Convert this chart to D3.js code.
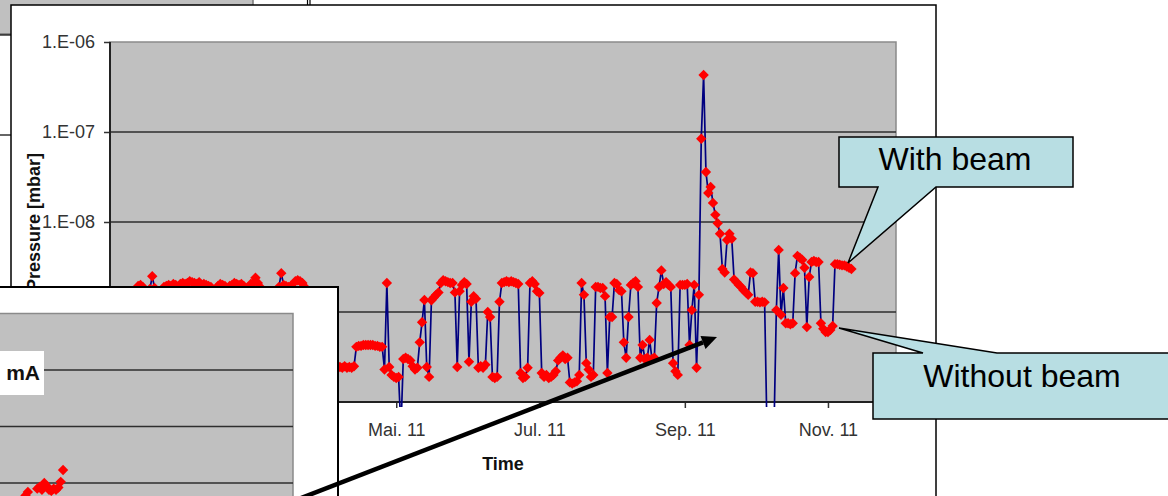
<!DOCTYPE html>
<html>
<head>
<meta charset="utf-8">
<script src="https://cdn.jsdelivr.net/npm/d3@7"></script>
<style>
  body { margin: 0; background: #fff; }
  svg { display: block; font-family: "Liberation Sans", Arial, sans-serif; }
</style>
</head>
<body>
<svg id="chart" width="1168" height="496"></svg>
<script>
// Daily pressure readings 2011, in units of 1e-9 mbar (index = day of month - 1)
const pJan = [null, null, null, null, null, 1.2, 1.4, 1.0, 1.5, 1.6, 1.95, 2.0, 1.9, 1.3, 1.2, 1.8, 2.5, 1.85, 1.2, 1.0, 1.5, 1.9, 1.95, 2.0, 1.95, 2.05, 2.0, 1.9, 2.05, 2.1, 2.05];
const pFeb = [2.1, 2.2, 2.15, 2.1, 2.05, 2.15, 2.0, 2.05, 2.0, 1.95, 1.9, 1.0, 1.4, 1.95, 2.05, 2.0, 1.95, 1.3, 1.95, 2.0, 2.1, 2.05, 2.0, 2.05, 1.95, 1.4, 1.9, 2.05];
const pMar = [2.1, 2.4, 2.1, 1.9, 1.2, 0.7, 0.5, 0.8, 0.6, 0.9, 1.3, 1.9, 2.7, 2.0, 1.95, 1.9, 1.95, 1.85, 2.2, 2.25, 2.2, 2.1, 1.9, 1.2, 0.8, 0.5, 0.4, 0.35, 0.3, 0.28, 0.3];
const pApr = [0.27, 0.26, 0.25, 0.26, 0.25, 0.25, 0.245, 0.24, 0.25, 0.24, 0.245, 0.24, 0.25, 0.41, 0.42, 0.42, 0.43, 0.43, 0.43, 0.43, 0.43, 0.42, 0.42, 0.41, 0.41, 0.23, 2.1, 0.245, 0.2, 0.19];
const pMai = [0.185, 0.19, 0.05, 0.3, 0.31, 0.3, 0.29, 0.25, 0.23, 0.24, 0.46, 0.77, 1.36, 0.245, 0.19, 1.35, 1.45, 1.55, 1.65, 2.1, 2.25, 2.2, 2.15, 2.1, 2.1, 1.65, 0.245, 1.7, 2.0, 2.15, 2.05];
const pJun = [0.28, 1.3, 1.5, 1.4, 0.24, 0.25, 0.24, 0.26, 1.0, 0.88, 0.19, 0.185, 0.19, 1.3, 2.1, 2.15, 2.2, 2.15, 2.2, 2.15, 2.1, 2.05, 0.21, 0.185, 0.19, 0.24, 2.1, 2.2, 2.05, 1.7];
const pJul = [1.63, 0.21, 0.19, 0.2, 0.185, 0.19, 0.2, 0.22, 0.29, 0.31, 0.33, 0.3, 0.31, 0.165, 0.16, 0.165, 0.17, 0.2, 2.1, 1.55, 0.27, 0.23, 0.19, 0.2, 1.9, 1.9, 1.85, 1.85, 1.5, 0.21, 0.88];
const pAug = [0.88, 2.1, 2.05, 1.75, 1.7, 0.46, 0.31, 0.88, 2.0, 2.1, 2.2, 1.9, 0.31, 0.43, 0.3, 0.31, 0.49, 0.3, 0.31, 1.26, 1.9, 2.9, 2.05, 2.15, 2.0, 1.9, 0.27, 0.22, 0.2, 2.0, 2.0];
const pSep = [2.0, 2.05, 0.43, 1.05, 2.0, 0.24, 1.55, 84, 430, 36, 21, 24.5, 16.3, 12, 9.7, 7.4, 3.0, 2.75, 6.3, 7.4, 6.5, 2.3, 2.15, 2.0, 1.9, 1.75, 1.65, 1.55, 2.75, 2.7];
const pOct = [1.3, 1.3, 1.28, 1.3, 1.28, 0.05, 0.05, 0.05, 0.05, 1.05, 4.9, 0.93, 1.85, 0.75, 0.75, 0.73, 0.75, 2.7, 4.2, 4.0, 3.8, 3.1, 0.68, 2.45, 3.6, 3.7, 3.6, 3.6, 0.75, 0.65, 0.6];
const pNov = [0.6, 0.63, 0.7, 3.4, 3.4, 3.35, 3.3, 3.3, 3.2, 3.1, 3.0];
const monthly = [pJan, pFeb, pMar, pApr, pMai, pJun, pJul, pAug, pSep, pOct, pNov];
const UNIT = 1e-9;

const yTicks = [1e-10, 1e-9, 1e-8, 1e-7, 1e-6];
const yTickLabels = ["1.E-10", "1.E-09", "1.E-08", "1.E-07", "1.E-06"];
const xTickLabels = ["Jan. 11", "Mrz. 11", "Mai. 11", "Jul. 11", "Sep. 11", "Nov. 11"];

// beam current chart lying on top (only a corner is visible)
const insetDates = ["2011-08-08", "2011-08-09", "2011-08-13", "2011-08-14", "2011-08-15", "2011-08-16", "2011-08-17", "2011-08-18", "2011-08-19", "2011-08-20", "2011-08-21", "2011-08-22", "2011-08-23", "2011-08-24"];
const insetCurrent = [78, 84, 90, 93, 88, 100, 95, 88, 86, 90, 88, 92, 102, 123];
const insetGrid = [100, 200, 300];

const data = [];
monthly.forEach((arr, m) => arr.forEach((v, i) => {
    if (v != null) data.push({ date: new Date(2011, m, i + 1), p: v * UNIT });
}));

const svg = d3.select("#chart");
const plot = { left: 110, right: 896, top: 42, bottom: 402 };

// windows behind the chart
svg.append("rect").attr("x", -2).attr("y", -2).attr("width", 255).attr("height", 36)
    .attr("fill", "#c0c0c0").attr("stroke", "#777").attr("stroke-width", 1.5);
[307.5, 310].forEach(xx => svg.append("line").attr("x1", xx).attr("x2", xx).attr("y1", 0).attr("y2", 8)
    .attr("stroke", "#000").attr("stroke-width", 1.2));
[35, 135].forEach(yy => svg.append("line").attr("x1", 0).attr("x2", 12).attr("y1", yy).attr("y2", yy)
    .attr("stroke", "#000").attr("stroke-width", 1.2));

// main chart window
svg.append("rect").attr("x", 11).attr("y", 5).attr("width", 925).attr("height", 520)
    .attr("fill", "#fff").attr("stroke", "#000").attr("stroke-width", 1.5);

const x = d3.scaleTime()
    .domain([new Date(2010, 11, 30), new Date(2011, 10, 30)])
    .range([plot.left, plot.right]);
const y = d3.scaleLog().domain([1e-10, 1e-6]).range([plot.bottom, plot.top]);

svg.append("rect").attr("x", plot.left).attr("y", plot.top)
    .attr("width", plot.right - plot.left).attr("height", plot.bottom - plot.top)
    .attr("fill", "#c0c0c0").attr("stroke", "#8a8a8a").attr("stroke-width", 1.5);

// gridlines
svg.append("g").selectAll("line").data(yTicks.slice(1, 4)).join("line")
    .attr("x1", plot.left).attr("x2", plot.right)
    .attr("y1", d => y(d)).attr("y2", d => y(d))
    .attr("stroke", "#2e2e2e").attr("stroke-width", 1.6);

// axes
const yAxis = svg.append("g").attr("transform", `translate(${plot.left},0)`)
    .call(d3.axisLeft(y).tickValues(yTicks).tickFormat((d, i) => yTickLabels[i]).tickSize(6).tickPadding(9));
const xTickDates = d3.timeMonth.every(2).range(new Date(2011, 0, 1), new Date(2011, 11, 1));
const xAxis = svg.append("g").attr("transform", `translate(0,${plot.bottom})`)
    .call(d3.axisBottom(x).tickValues(xTickDates).tickFormat((d, i) => xTickLabels[i]).tickSize(6));
[yAxis, xAxis].forEach(g => {
    g.select(".domain").remove();
    g.selectAll(".tick line").attr("stroke", "#333").attr("stroke-width", 1.5);
    g.selectAll("text").attr("font-size", 18).attr("fill", "#333")
        .attr("font-family", "'Liberation Sans', Arial, sans-serif");
});
xAxis.selectAll("text").attr("y", 34).attr("dy", 0);

svg.append("line").attr("x1", plot.left).attr("x2", plot.left).attr("y1", plot.top).attr("y2", plot.bottom)
    .attr("stroke", "#222").attr("stroke-width", 2);
svg.append("line").attr("x1", plot.left).attr("x2", plot.right).attr("y1", plot.bottom).attr("y2", plot.bottom)
    .attr("stroke", "#222").attr("stroke-width", 2);

svg.append("text").attr("transform", `translate(40,${(plot.top + plot.bottom) / 2}) rotate(-90)`)
    .attr("text-anchor", "middle").attr("font-size", 18).attr("font-weight", "bold").attr("fill", "#111")
    .text("Pressure [mbar]");
svg.append("text").attr("x", (plot.left + plot.right) / 2).attr("y", 470)
    .attr("text-anchor", "middle").attr("font-size", 18).attr("font-weight", "bold").attr("fill", "#111")
    .text("Time");

// series
svg.append("clipPath").attr("id", "clip").append("rect")
    .attr("x", plot.left).attr("y", plot.top - 10)
    .attr("width", plot.right - plot.left).attr("height", plot.bottom - plot.top + 15);
const series = svg.append("g").attr("clip-path", "url(#clip)");
const line = d3.line().x(d => x(d.date)).y(d => y(d.p));
series.append("path").datum(data).attr("d", line)
    .attr("fill", "none").attr("stroke", "#000080").attr("stroke-width", 1.7);
const diamond = d3.symbol().type(d3.symbolSquare).size(54);
series.selectAll("path.mk").data(data).join("path").attr("class", "mk")
    .attr("d", diamond)
    .attr("transform", d => `translate(${x(d.date)},${y(d.p)}) rotate(45)`)
    .attr("fill", "#ff0000");

// inset window (beam current)
const parse = d3.timeParse("%Y-%m-%d");
const ix = d3.scaleTime().domain(x.domain()).range([-493, 293]);
const iy = d3.scaleLinear().domain([0, 400]).range([539.5, 313.5]);
const inset = svg.append("g");
inset.append("rect").attr("x", -5).attr("y", 287).attr("width", 343).attr("height", 240)
    .attr("fill", "#fff").attr("stroke", "#000").attr("stroke-width", 2);
inset.append("rect").attr("x", -5).attr("y", iy(400)).attr("width", 298).attr("height", 220)
    .attr("fill", "#c0c0c0").attr("stroke", "#8a8a8a").attr("stroke-width", 1.5);
inset.selectAll("line.grid").data(insetGrid).join("line").attr("class", "grid")
    .attr("x1", 0).attr("x2", 293).attr("y1", d => iy(d)).attr("y2", d => iy(d))
    .attr("stroke", "#2e2e2e").attr("stroke-width", 1.6);
inset.append("rect").attr("x", -5).attr("y", 351).attr("width", 49).attr("height", 44).attr("fill", "#fff");
inset.append("text").attr("x", 40).attr("y", 380).attr("text-anchor", "end")
    .attr("font-size", 21).attr("font-weight", "bold").attr("fill", "#111").text("mA");
inset.selectAll("path.imk").data(insetDates).join("path").attr("class", "imk")
    .attr("d", diamond)
    .attr("transform", (d, i) => `translate(${ix(parse(d))},${iy(insetCurrent[i])}) rotate(45)`)
    .attr("fill", "#ff0000");

// arrow
const tip = [717, 337], tail = [296, 500];
const len = Math.hypot(tip[0] - tail[0], tip[1] - tail[1]);
const ux = (tip[0] - tail[0]) / len, uy = (tip[1] - tail[1]) / len;
const base = [tip[0] - 15 * ux, tip[1] - 15 * uy];
svg.append("line").attr("x1", tail[0]).attr("y1", tail[1]).attr("x2", base[0]).attr("y2", base[1])
    .attr("stroke", "#000").attr("stroke-width", 4.5);
svg.append("path")
    .attr("d", `M${tip}L${base[0] - 7 * uy},${base[1] + 7 * ux}L${base[0] + 7 * uy},${base[1] - 7 * ux}Z`)
    .attr("fill", "#000");

// callouts
const calloutFill = "#b8dee3";
svg.append("path").attr("d", "M839,137H1073V187H936L848,263L878,187H839Z")
    .attr("fill", calloutFill).attr("stroke", "#000").attr("stroke-width", 1.5);
svg.append("text").attr("x", 955).attr("y", 170).attr("text-anchor", "middle")
    .attr("font-size", 32).attr("fill", "#000").text("With beam");
svg.append("path").attr("d", "M873,353H923L839,328L997,353H1180V419H873Z")
    .attr("fill", calloutFill).attr("stroke", "#000").attr("stroke-width", 1.5);
svg.append("text").attr("x", 1022).attr("y", 387).attr("text-anchor", "middle")
    .attr("font-size", 32).attr("fill", "#000").text("Without beam");
</script>
</body>
</html>
